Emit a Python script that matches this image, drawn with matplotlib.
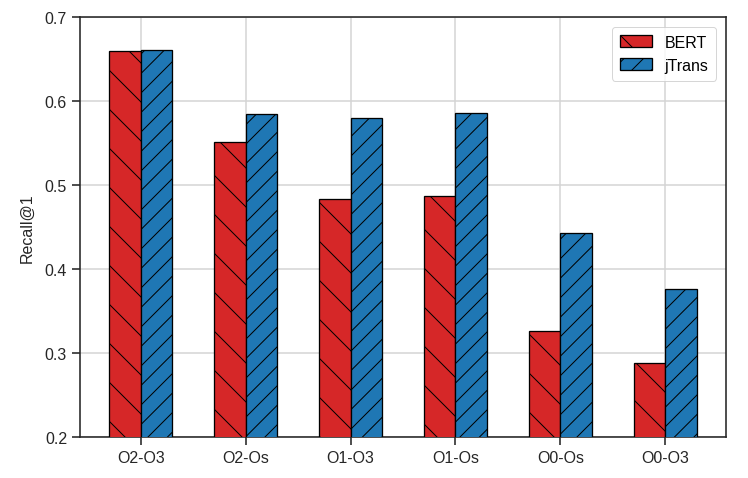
import numpy as np
import matplotlib
matplotlib.use("Agg")
import matplotlib.pyplot as plt

categories = ["O2-O3", "O2-Os", "O1-O3", "O1-Os", "O0-Os", "O0-O3"]
bert = [0.659, 0.551, 0.483, 0.487, 0.326, 0.288]
jtrans = [0.661, 0.585, 0.580, 0.586, 0.443, 0.376]

# dpi picked so the hatch spacing matches the original
DPI = 117
PX = 72.0 / DPI  # points per pixel

plt.rcParams["font.family"] = ["Liberation Sans", "DejaVu Sans"]
plt.rcParams["hatch.linewidth"] = 1.0 * PX

fig = plt.figure(figsize=(748 / DPI, 479 / DPI), dpi=DPI)
ax = fig.add_axes([80 / 748, 1 - 438 / 479, (726 - 80) / 748, (438 - 18) / 479])

x = np.arange(len(categories))
w = 0.3
ax.bar(x - w / 2, bert, w, color="#d62728", edgecolor="black", hatch="\\",
       linewidth=1.3 * PX, label="BERT", zorder=3)
ax.bar(x + w / 2, jtrans, w, color="#1f77b4", edgecolor="black", hatch="//",
       linewidth=1.3 * PX, label="jTrans", zorder=3)

ax.set_ylim(0.2, 0.7)
ax.set_yticks([0.2, 0.3, 0.4, 0.5, 0.6, 0.7])
ax.set_xticks(x)
ax.set_xticklabels(categories)
ax.set_ylabel("Recall@1", fontsize=16 * PX, color="#262626", labelpad=10 * PX)

ax.grid(True, color="#d4d4d4", linewidth=1.5 * PX, zorder=0)
ax.set_axisbelow(True)
for s in ax.spines.values():
    s.set_color("#262626")
    s.set_linewidth(1.6 * PX)
ax.tick_params(direction="out", length=8 * PX, width=1.6 * PX, color="#262626",
               labelsize=16 * PX, labelcolor="#262626", pad=5 * PX)

leg = ax.legend(loc="upper right", fontsize=16 * PX, frameon=True, fancybox=True,
                borderpad=0.5, handlelength=2.0, handleheight=0.7,
                borderaxespad=0.6, labelspacing=0.5, handletextpad=0.8)
leg.get_frame().set_edgecolor("#cccccc")
leg.get_frame().set_linewidth(1.0 * PX)

fig.savefig("out.png", dpi=DPI)
